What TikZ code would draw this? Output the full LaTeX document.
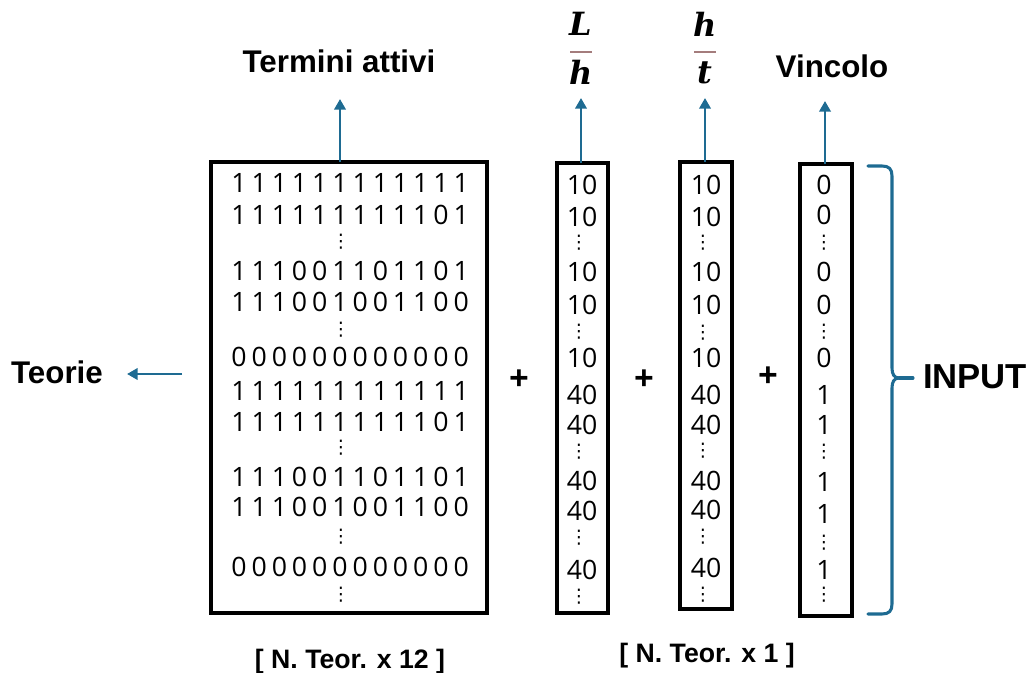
\documentclass[tikz,border=0pt]{standalone}
\usepackage{fontspec}
\setmainfont{Open Sans}
\newfontfamily\lblfont{Liberation Sans}
\newfontfamily\dotfont{DejaVu Sans}
\newfontfamily\varfont{DejaVu Serif}
\usetikzlibrary{arrows.meta,fit}
\definecolor{flowblue}{HTML}{1E6B92}
\definecolor{barbrown}{HTML}{A47C7C}

% bit patterns of the matrix rows
\def\rowA{1,1,1,1,1,1,1,1,1,1,1,1}
\def\rowB{1,1,1,1,1,1,1,1,1,1,0,1}
\def\rowC{1,1,1,0,0,1,1,0,1,1,0,1}
\def\rowD{1,1,1,0,0,1,0,0,1,1,0,0}
\def\rowE{0,0,0,0,0,0,0,0,0,0,0,0}

\tikzset{
  every node/.style={inner sep=0pt, outer sep=0pt},
  frame/.style={draw=black, line width=2.3pt, inner sep=0pt},
  digit/.style={font=\fontsize{20}{22}\selectfont, anchor=center},
  vdot/.style={font=\dotfont\fontsize{14}{16}\selectfont, anchor=center},
  head/.style={font=\lblfont\bfseries\fontsize{23.5}{26}\selectfont, anchor=base},
  bighead/.style={font=\lblfont\bfseries\fontsize{26}{30}\selectfont, anchor=base},
  dimlabel/.style={font=\lblfont\bfseries\fontsize{20}{24}\selectfont, anchor=base},
  plussign/.style={font=\bfseries\fontsize{26}{28}\selectfont, anchor=center},
  var/.style={font=\varfont\bfseries\itshape\fontsize{24}{28}\selectfont, anchor=base},
  fracbar/.style={fill=barbrown, minimum width=16.5pt, minimum height=1.6pt},
  flow/.style={draw=flowblue, line width=2.2pt, -{Triangle[width=8.5pt,length=8pt]}},
  brace/.style={draw=flowblue, line width=2.3pt, line join=round, line cap=round},
}

\begin{document}
\begin{tikzpicture}[x=0.75pt, y=-0.75pt]
  \useasboundingbox (0,0) rectangle (1030,673);

  % ---- boxes
  \node[frame, fit={(211,162) (487,613)}] (mat) {};
  \node[frame, fit={(557,163) (608,613)}] (lh) {};
  \node[frame, fit={(680,162) (732,609)}] (ht) {};
  \node[frame, fit={(800,164) (852,616)}] (vin) {};

  % ---- matrix of active terms
  \foreach \y/\r in {183/\rowA, 215/\rowB, 271/\rowC, 302/\rowD, 357/\rowE,
                     391/\rowA, 422/\rowB, 477/\rowC, 507/\rowD, 567/\rowE} {
    \edef\cur{\r}
    \foreach \d [count=\i from 0] in \cur {
      \node[digit] at (239+\i*20.2, \y) {\d};
    }
  }
  \foreach \y in {242, 330, 448, 537, 595}
    \node[vdot] at (341,\y) {⋮};

  % ---- L/h column
  \foreach \y/\v in {185/10, 217/10, 272/10, 305/10, 358/10,
                     395/40, 425/40, 481/40, 511/40, 570/40}
    \node[digit] at (582,\y) {\v};
  \foreach \y in {243, 332, 452, 538, 597}
    \node[vdot] at (579,\y) {⋮};

  % ---- h/t column
  \foreach \y/\v in {185/10, 217/10, 272/10, 305/10, 358/10,
                     395/40, 425/40, 481/40, 510/40, 568/40}
    \node[digit] at (706,\y) {\v};
  \foreach \y in {243, 333, 451, 537, 595}
    \node[vdot] at (703,\y) {⋮};

  % ---- constraint column
  \foreach \y/\v in {185/0, 215/0, 272/0, 305/0, 358/0,
                     395/1, 425/1, 482/1, 514/1, 570/1}
    \node[digit] at (824,\y) {\v};
  \foreach \y in {243, 332, 452, 543, 595}
    \node[vdot] at (824,\y) {⋮};

  % ---- plus signs
  \node[plussign] (p1) at (519,380) {+};
  \node[plussign] (p2) at (644,380) {+};
  \node[plussign] (p3) at (768,377) {+};

  % ---- headings
  \node[head] (ta) at (339,73) {Termini attivi};
  \node[head] (vl) at (832,78) {Vincolo};
  \node[head] (teo) at (57,383) {Teorie};
  \node[bighead] (inp) at (975,388) {INPUT};

  \node[var] (lnum) at (581,36) {L};
  \node[fracbar] (lbar) at (581,52) {};
  \node[var] (lden) at (581,85) {h};

  \node[var] (hnum) at (705,37) {h};
  \node[fracbar] (hbar) at (705,52) {};
  \node[var] (hden) at (705,84) {t};

  \node[dimlabel] (d12) at (350,668) {[ N. Teor. x 12 ]};
  \node[dimlabel] (d1) at (707,662) {[ N. Teor. x 1 ]};

  % ---- arrows
  \coordinate (matTip) at (340,99);
  \coordinate (lhTip) at (581,98);
  \coordinate (htTip) at (705,98);
  \coordinate (vinTip) at (825,101);
  \coordinate (teoTail) at (182,374);
  \coordinate (teoTip) at (127,374);
  \draw[flow] (mat.north -| matTip) -- (matTip);
  \draw[flow] (lh.north -| lhTip) -- (lhTip);
  \draw[flow] (ht.north -| htTip) -- (htTip);
  \draw[flow] (vin.north -| vinTip) -- (vinTip);
  \draw[flow] (teoTail) -- (teoTip);

  % ---- brace grouping the inputs
  \draw[brace] (868,166) -- (882,166) .. controls (889,166) and (892,169) .. (892,176)
               -- (892,368) .. controls (892,374) and (894,378) .. (899,378)
               .. controls (894,378) and (892,382) .. (892,388)
               -- (892,604) .. controls (892,611) and (889,614) .. (882,614) -- (868,614);
  \coordinate (braceTip) at (913,378);
  \draw[brace] (899,378) -- (braceTip);
\end{tikzpicture}
\end{document}
